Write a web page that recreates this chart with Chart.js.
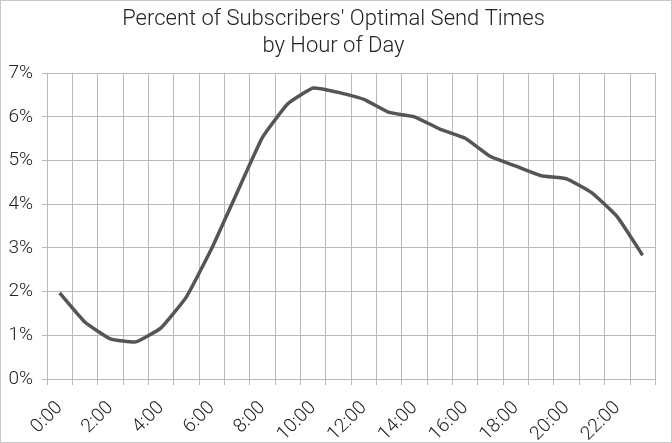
<!DOCTYPE html>
<html>
<head>
<meta charset="utf-8">
<script src="https://cdn.jsdelivr.net/npm/chart.js@4/dist/chart.umd.min.js"></script>
<style>
  html, body { margin: 0; padding: 0; background: #fff; }
  #wrap { position: relative; width: 672px; height: 443px; box-sizing: border-box; border: 1px solid #c8c8c8; }
  canvas { display: block; }
</style>
</head>
<body>
<div id="wrap"><canvas id="c" width="670" height="441"></canvas></div>
<script>
const hours = ["0:00","1:00","2:00","3:00","4:00","5:00","6:00","7:00","8:00","9:00","10:00","11:00",
               "12:00","13:00","14:00","15:00","16:00","17:00","18:00","19:00","20:00","21:00","22:00","23:00"];
const percentOptimal = [1.97, 1.30, 0.92, 0.85, 1.17, 1.88, 2.99, 4.27, 5.53, 6.30, 6.66, 6.56,
                        6.40, 6.10, 6.00, 5.72, 5.51, 5.09, 4.87, 4.65, 4.58, 4.26, 3.71, 2.83];
const titleLines = ["Percent of Subscribers' Optimal Send Times", "by Hour of Day"];
const yMin = 0, yMax = 7, yStep = 1;

const FONT = "Roboto, 'Helvetica Neue', 'Liberation Sans', sans-serif";

new Chart(document.getElementById('c'), {
  type: 'line',
  data: {
    labels: hours,
    datasets: [{
      data: percentOptimal,
      borderColor: '#555555',
      borderWidth: 3.5,
      pointRadius: 0,
      tension: 0.12,
      fill: false
    }]
  },
  options: {
    responsive: false,
    animation: false,
    layout: { padding: { left: 4, right: 9, top: 0, bottom: 0 } },
    plugins: {
      legend: { display: false },
      tooltip: { enabled: false },
      title: {
        display: true,
        text: titleLines,
        color: '#222',
        font: { family: FONT, size: 22, weight: '300', lineHeight: 1.23 },
        padding: { top: 5, bottom: 13 }
      }
    },
    scales: {
      x: {
        offset: true,
        grid: { color: '#b9b9b9', lineWidth: 1, tickLength: 6, offset: true },
        border: { color: '#b9b9b9' },
        afterFit: function(s) { s.height = 63; },
        ticks: {
          autoSkip: false,
          maxRotation: 45,
          minRotation: 45,
          padding: 12,
          color: '#222',
          font: { family: FONT, size: 19, weight: '300' },
          callback: function(v, i) { return i % 2 === 0 ? hours[i] : ''; }
        }
      },
      y: {
        min: yMin,
        max: yMax,
        grid: { color: '#b9b9b9', lineWidth: 1, tickLength: 5 },
        border: { display: false },
        afterFit: function(s) { s.width = 42; },
        ticks: {
          stepSize: yStep,
          padding: 9,
          color: '#222',
          font: { family: FONT, size: 19, weight: '300' },
          callback: function(v) { return v + '%'; }
        }
      }
    }
  }
});
</script>
</body>
</html>
